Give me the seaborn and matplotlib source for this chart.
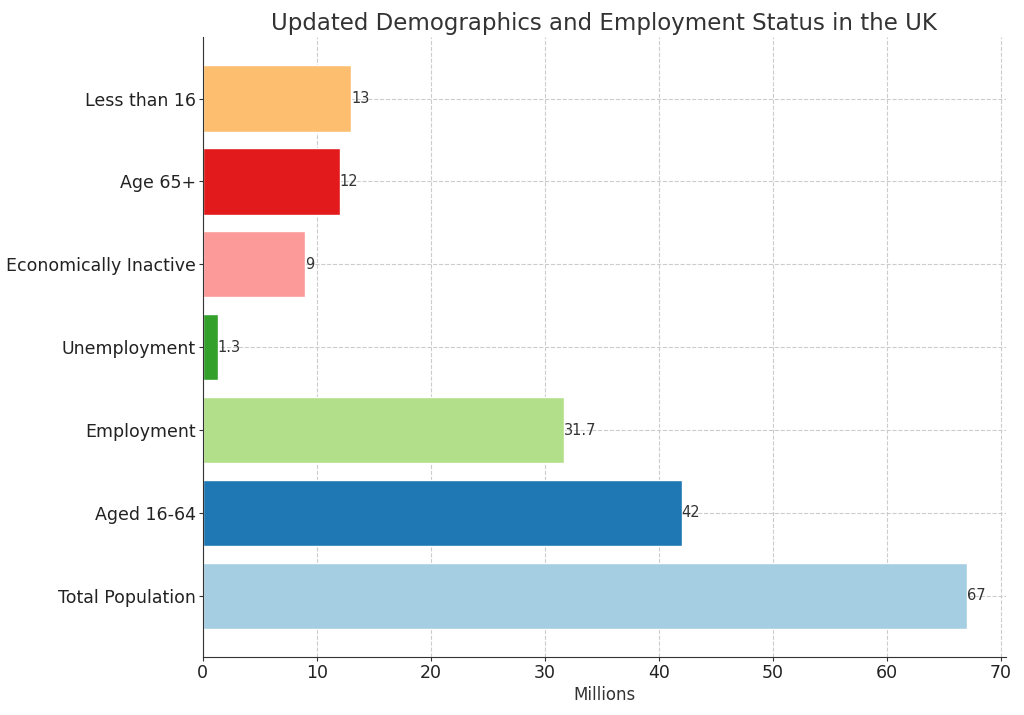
import matplotlib
matplotlib.use('Agg')
import matplotlib.pyplot as plt
import seaborn as sns
import pandas as pd

# Data
categories = ['Total Population', 'Aged 16-64', 'Employment', 'Unemployment',
              'Economically Inactive', 'Age 65+', 'Less than 16']
values = [67, 42, 31.7, 1.3, 9, 12, 13]
value_labels = ['67', '42', '31.7', '1.3', '9', '12', '13']

df = pd.DataFrame({'Category': categories, 'Millions': values})
colors = sns.color_palette('Paired', 7)

sns.set_style('white')
fig, ax = plt.subplots(figsize=(10.24, 7.15), dpi=100)

# reversed order so Total Population ends up at the bottom
order = categories[::-1]
pal = dict(zip(categories, colors))
sns.barplot(data=df, y='Category', x='Millions', order=order, hue='Category',
            palette=pal, legend=False, width=0.8, saturation=1, ax=ax, zorder=2)

for i, cat in enumerate(order):
    idx = categories.index(cat)
    ax.text(values[idx], i, value_labels[idx], va='center', ha='left',
            fontsize=10.5, color='#333333')

ax.grid(True, linestyle='--', color='#cccccc', linewidth=0.8, zorder=0)
ax.set_axisbelow(True)
sns.despine(ax=ax)
ax.set_xlim(0, 70.4)
ax.set_ylim(len(order) - 0.26, -0.74)
ax.set_xticks(range(0, 71, 10))
ax.tick_params(axis='both', labelsize=12.5, length=3, width=0.8, pad=2,
               color='#333333', left=True, bottom=True)
ax.set_ylabel('')
ax.set_xlabel('Millions', fontsize=12, color='#333333', labelpad=3)
ax.set_title('Updated Demographics and Employment Status in the UK',
             fontsize=16.5, color='#333333', pad=5)
for lbl in ax.get_xticklabels() + ax.get_yticklabels():
    lbl.set_color('#222222')
ax.spines['left'].set_color('#333333')
ax.spines['bottom'].set_color('#333333')

plt.subplots_adjust(left=0.198, right=0.982, top=0.948, bottom=0.081)
plt.savefig('out.png', dpi=100)
